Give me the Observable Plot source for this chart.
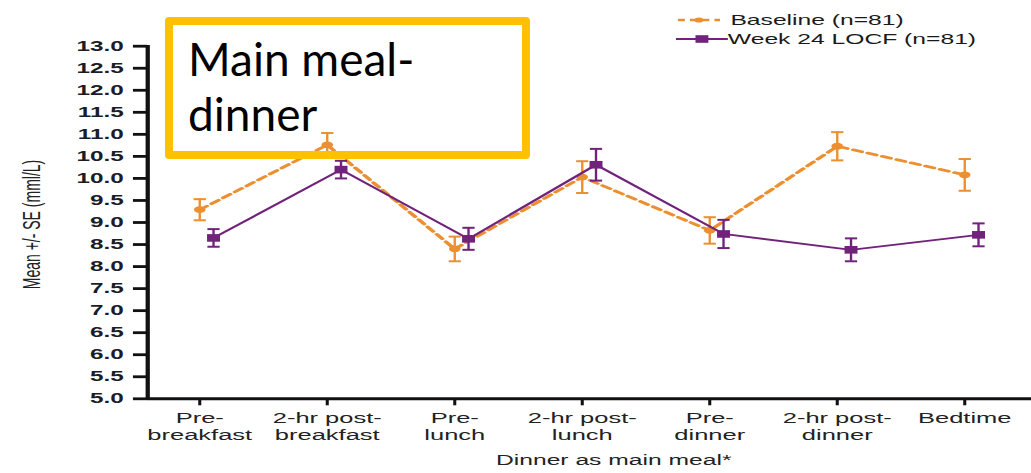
<!DOCTYPE html>
<html>
<head>
<meta charset="utf-8">
<script src="https://cdn.jsdelivr.net/npm/d3@7"></script>
<script src="https://cdn.jsdelivr.net/npm/@observablehq/plot@0.6"></script>
<style>
  html, body { margin: 0; padding: 0; background: #fff; }
  #wrap { position: relative; width: 1031px; height: 473px; overflow: hidden; }
  #wrap svg { display: block; }
  #legend {
    position: absolute; left: 676px; top: 11px;
    transform: scaleX(1.7); transform-origin: 0 0;
    font-family: "Liberation Sans", Arial, sans-serif; font-size: 14.5px; color: #1a1a1a;
    white-space: nowrap;
  }
  #legend .row { display: flex; align-items: center; height: 18.6px; }
  #legend svg { display: block; }
  #note {
    position: absolute; left: 165px; top: 17px; width: 365px; height: 142px;
    box-sizing: border-box; border: 8px solid #FFC000; border-radius: 4px;
    background: transparent;
  }
  #note-text {
    position: absolute; left: 188px; top: 31px;
    font-family: Lato, "Open Sans", sans-serif; font-size: 46px; line-height: 55px;
    color: #000; white-space: pre;
  }
</style>
</head>
<body>
<div id="wrap">
  <div id="chart"></div>
  <div id="note"></div>
  <div id="note-text">Main meal-
dinner</div>
  <div id="legend"></div>
</div>
<script>
// Self-monitored glucose, dinner as main meal: mean ± SE by time of day
const categories = ["Pre-breakfast", "2-hr post-breakfast", "Pre-lunch", "2-hr post-lunch",
                    "Pre-dinner", "2-hr post-dinner", "Bedtime"];
const tickLabels = ["Pre-\nbreakfast", "2-hr post-\nbreakfast", "Pre-\nlunch", "2-hr post-\nlunch",
                    "Pre-\ndinner", "2-hr post-\ndinner", "Bedtime"];
const seriesNames = ["Baseline (n=81)", "Week 24 LOCF (n=81)"];
const baselineMean = [9.29, 10.76, 8.40, 10.03, 8.82, 10.73, 10.08];
const baselineSE   = [0.24, 0.27, 0.28, 0.36, 0.30, 0.32, 0.36];
const week24Mean   = [8.65, 10.20, 8.63, 10.31, 8.74, 8.38, 8.72];
const week24SE     = [0.20, 0.20, 0.25, 0.36, 0.32, 0.26, 0.26];
const yTicks = d3.range(5, 13.001, 0.5);
const xTitle = "Dinner as main meal*";
const yTitle = "Mean +/- SE (mml/L)";

const ORANGE = "#EC8F31";
const PURPLE = "#71237C";
const STRETCH = 1.7;               // horizontal stretch of the drawing
const W = 1031 / STRETCH;          // drawing width before stretching

const toRows = (name, means, ses) =>
  categories.map((c, i) => ({ time: c, series: name, mean: means[i], se: ses[i] }));
const baseRows = toRows(seriesNames[0], baselineMean, baselineSE);
const weekRows = toRows(seriesNames[1], week24Mean, week24SE);
const labelFor = new Map(categories.map((c, i) => [c, tickLabels[i]]));

// short horizontal stroke used for the error-bar caps
const capSymbol = {
  draw(ctx, size) { const h = Math.sqrt(size / Math.PI); ctx.moveTo(-h, 0); ctx.lineTo(h, 0); }
};

function seriesMarks(rows, color, dx, lineOpts, markerOpts) {
  return [
    Plot.line(rows, { x: "time", y: "mean", dx, stroke: color, ...lineOpts }),
    Plot.ruleX(rows, { x: "time", y1: d => d.mean - d.se, y2: d => d.mean + d.se, dx, stroke: color, strokeWidth: 1.4 }),
    Plot.dot(rows, { x: "time", y: d => d.mean + d.se, dx, symbol: capSymbol, r: 3.6, stroke: color, strokeWidth: 2, fill: "none" }),
    Plot.dot(rows, { x: "time", y: d => d.mean - d.se, dx, symbol: capSymbol, r: 3.6, stroke: color, strokeWidth: 2, fill: "none" }),
    Plot.dot(rows, { x: "time", y: "mean", dx, fill: color, stroke: "none", ...markerOpts })
  ];
}

const svg = Plot.plot({
  width: W,
  height: 473,
  marginLeft: 86.4,
  marginRight: 0,
  marginTop: 45.7,
  marginBottom: 74.7,
  style: { fontFamily: "'Liberation Sans', Arial, Helvetica, sans-serif", color: "#1e1e1e", background: "transparent", overflow: "visible" },
  x: { type: "point", domain: categories, range: [116.0, 568.6], padding: 0 },
  y: { domain: [5, 13] },
  marks: [
    Plot.frame({ anchor: "left", strokeWidth: 2.5, stroke: "#111" }),
    Plot.ruleY([5], { strokeWidth: 3, stroke: "#111" }),
    Plot.axisY({ ticks: yTicks, tickFormat: d3.format(".1f"), tickSize: 8.2, tickPadding: 5.9,
                 strokeWidth: 2.8, stroke: "#111", fontSize: 14.3, fontWeight: "bold", fill: "#1c1c28", label: null }),
    Plot.axisX({ tickSize: 7, tickPadding: 5, strokeWidth: 1.8, stroke: "#111", fontSize: 15, lineHeight: 1.15,
                 fill: "#222", tickFormat: d => labelFor.get(d), label: null }),
    Plot.text([xTitle], { frameAnchor: "bottom", dx: 14.1, dy: 66, fontSize: 14.5, fill: "#222" }),
    Plot.text([yTitle], { frameAnchor: "left", textAnchor: "middle", rotate: -90, dx: -67.6, dy: 2, fontSize: 14, fill: "#222" }),
    ...seriesMarks(baseRows, ORANGE, 0, { strokeWidth: 2.6, strokeDasharray: "5.5,3.6" }, { r: 3.4 }),
    ...seriesMarks(weekRows, PURPLE, 8.1, { strokeWidth: 1.8 }, { symbol: "square", r: 4.3 })
  ]
});

// stretch the drawing horizontally to the full page width
svg.setAttribute("width", 1031);
svg.setAttribute("height", 473);
svg.setAttribute("preserveAspectRatio", "none");
svg.style.width = "1031px";
svg.style.height = "473px";
svg.style.maxWidth = "none";
document.getElementById("chart").appendChild(svg);

// legend
const legend = document.getElementById("legend");
const ns = "http://www.w3.org/2000/svg";
function swatch(width, color, dashed, square) {
  const s = document.createElementNS(ns, "svg");
  s.setAttribute("width", width); s.setAttribute("height", 10);
  const l = document.createElementNS(ns, "line");
  l.setAttribute("x1", 0); l.setAttribute("x2", width); l.setAttribute("y1", 5); l.setAttribute("y2", 5);
  l.setAttribute("stroke", color); l.setAttribute("stroke-width", dashed ? 2.4 : 1.8);
  if (dashed) l.setAttribute("stroke-dasharray", "4.2,3");
  s.appendChild(l);
  const m = document.createElementNS(ns, square ? "rect" : "circle");
  if (square) { m.setAttribute("x", width / 2 - 3.8); m.setAttribute("y", 1.2); m.setAttribute("width", 7.6); m.setAttribute("height", 7.6); }
  else { m.setAttribute("cx", width / 2); m.setAttribute("cy", 5); m.setAttribute("r", 2.6); }
  m.setAttribute("fill", color);
  s.appendChild(m);
  return s;
}
[[seriesNames[0], ORANGE, true, false, 25, 6], [seriesNames[1], PURPLE, false, true, 30.5, 0]]
  .forEach(([name, color, dashed, square, w, gap]) => {
    const row = document.createElement("div");
    row.className = "row";
    const sw = swatch(w, color, dashed, square);
    sw.style.marginRight = gap + "px";
    sw.style.marginLeft = dashed ? "1px" : "0px";
    row.appendChild(sw);
    const t = document.createElement("span");
    t.textContent = name;
    row.appendChild(t);
    legend.appendChild(row);
  });
</script>
</body>
</html>
